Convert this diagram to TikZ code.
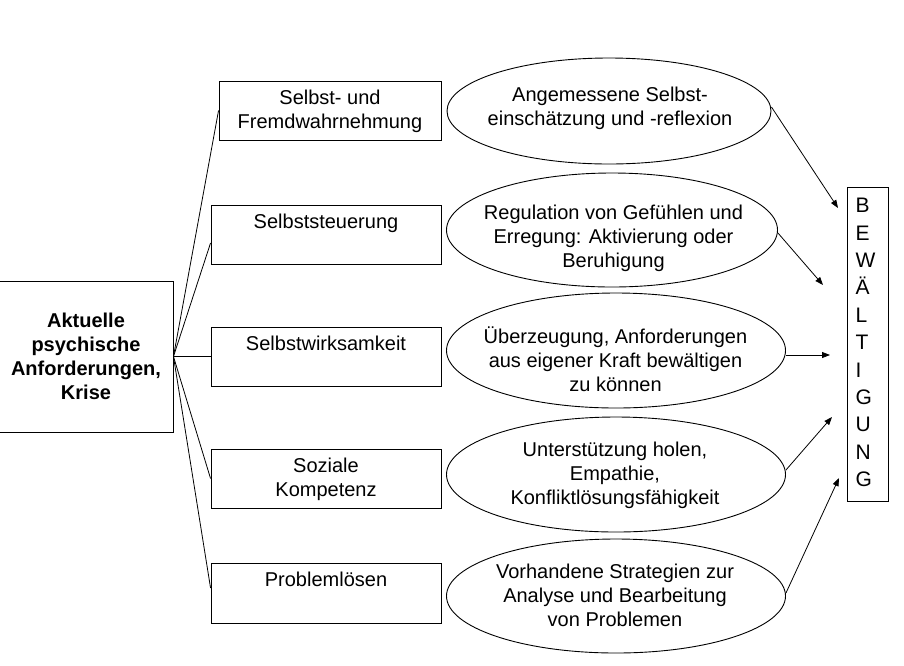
\documentclass[tikz,border=0pt]{standalone}
\usepackage{fontspec}
\setmainfont{Liberation Sans}
\usetikzlibrary{arrows.meta,shapes.geometric}
\begin{document}
\begin{tikzpicture}[x=1pt,y=-1pt,
  every node/.style={font=\fontsize{20}{24}\selectfont},
  box/.style={draw=black,line width=0.9pt,inner sep=0pt,minimum height=59pt,minimum width=230pt},
  ell/.style={draw=black,ellipse,line width=0.9pt,inner sep=0pt},
  lbl/.style={align=center,inner sep=0pt},
  conn/.style={draw=black,line width=0.8pt},
  arr/.style={conn,-{Triangle[length=8pt,width=6pt]}}
]
\useasboundingbox (0,0) rectangle (904,665);

% left box
\node[box,minimum width=174pt,minimum height=151pt,align=center,
      font=\fontsize{20}{24}\selectfont\bfseries] (L) at (86,356.5)
      {Aktuelle\\psychische\\Anforderungen,\\Krise};

% competence boxes
\node[box,minimum width=222pt] (b1) at (330,110.5) {};
\node[box] (b2) at (326,234.5) {};
\node[box] (b3) at (326,356.5) {};
\node[box] (b4) at (326,478.5) {};
\node[box,minimum height=60pt] (b5) at (326,593) {};

\node[lbl,anchor=north] (tb1) at ([yshift=-9.4pt]b1.north) {Selbst- und\\Fremdwahrnehmung};
\node[lbl,anchor=north] (tb2) at ([yshift=-9.4pt]b2.north) {Selbststeuerung};
\node[lbl,anchor=north] (tb3) at ([yshift=-9.4pt]b3.north) {Selbstwirksamkeit};
\node[lbl,anchor=north] (tb4) at ([yshift=-9.4pt]b4.north) {Soziale\\Kompetenz};
\node[lbl,anchor=north] (tb5) at ([yshift=-9.4pt]b5.north) {Problemlösen};

% connectors from left box
\draw[conn] (L.east) -- (b1.west);
\draw[conn] (L.east) -- ([yshift=-8.5pt]b2.west);
\draw[conn] (L.east) -- (b3.west);
\draw[conn] (L.east) -- (b4.west);
\draw[conn] (L.east) -- ([yshift=5pt]b5.west);

% ellipses
\node[ell,minimum width=324pt,minimum height=106pt] (e1) at (609,111) {};
\node[ell,minimum width=331pt,minimum height=114pt] (e2) at (612,230) {};
\node[ell,minimum width=339pt,minimum height=115pt] (e3) at (616,350.5) {};
\node[ell,minimum width=339pt,minimum height=115pt] (e4) at (616,474.5) {};
\node[ell,minimum width=339pt,minimum height=114pt] (e5) at (616,596) {};

\node[lbl] (te1) at (610,108.7) {Angemessene Selbst-\\einschätzung und -reflexion};
\node[lbl] (te2) at (613.5,238) {Regulation von Gefühlen und\\Erregung: Aktivierung oder\\Beruhigung};
\node[lbl] (te3) at (615.5,359) {Überzeugung, Anforderungen\\aus eigener Kraft bewältigen\\zu können};
\node[lbl] (te4) at (615,475.5) {Unterstützung holen,\\Empathie,\\Konfliktlösungsfähigkeit};
\node[lbl] (te5) at (615,595) {Vorhandene Strategien zur\\Analyse und Bearbeitung\\von Problemen};

% Bewaeltigung box
\node[draw=black,line width=0.9pt,inner sep=0pt,minimum width=41pt,minimum height=314pt,
      anchor=north west] (bew) at (847,187) {};
\node[anchor=north west,inner sep=0pt,align=left,
      font=\fontsize{21}{27.4}\selectfont] (tbew) at (855.5,198)
      {B\\E\\W\\Ä\\L\\T\\I\\G\\U\\N\\G};

% arrow ends
\coordinate (a1) at (838,208);
\coordinate (a2) at (823,285);
\coordinate (a3) at (830,355);
\coordinate (a4) at (832,417);
\coordinate (a5) at (839,478);

\draw[arr] ([yshift=4pt]e1.east) -- (a1);
\draw[arr] ([yshift=-3pt]e2.east) -- (a2);
\draw[arr] ([yshift=-4.5pt]e3.east) -- (a3);
\draw[arr] ([yshift=4.5pt]e4.east) -- (a4);
\draw[arr] ([yshift=3pt]e5.east) -- (a5);
\end{tikzpicture}
\end{document}
